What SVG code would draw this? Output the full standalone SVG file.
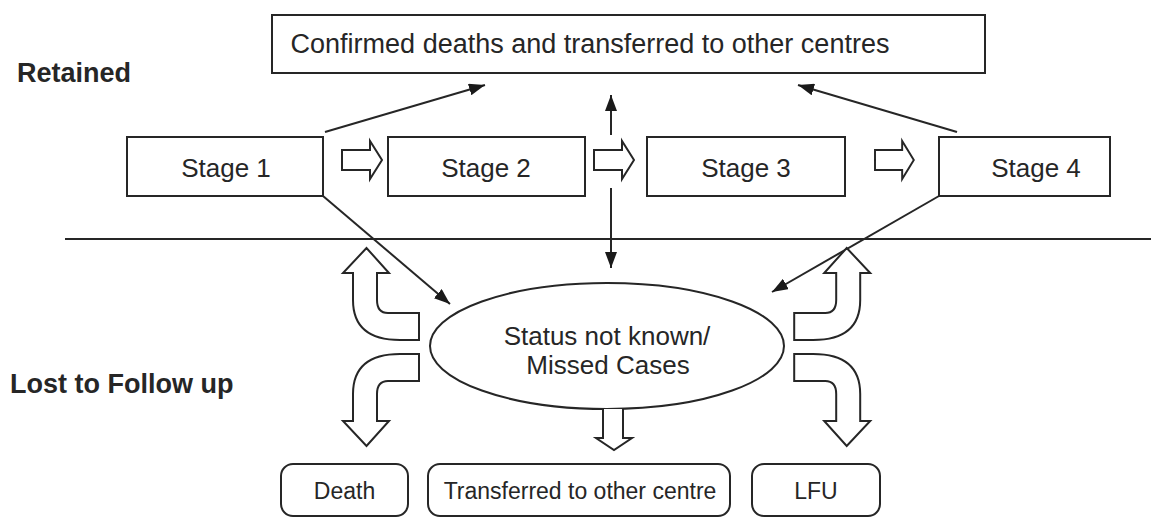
<svg xmlns="http://www.w3.org/2000/svg" xmlns:xlink="http://www.w3.org/1999/xlink" width="1151" height="529" viewBox="0 0 1151 529">
<style>
.box{fill:#fff;stroke:#262626;stroke-width:2}
.blk{fill:#fff;stroke:#262626;stroke-width:2;stroke-linejoin:miter}
.ln{fill:none;stroke:#262626;stroke-width:2}
.t{font-family:"Liberation Sans",Arial,sans-serif;font-size:26px;fill:#262626;text-anchor:middle}
.s{font-size:23px}
.lbl{font-family:"Liberation Sans",Arial,sans-serif;font-size:27px;font-weight:bold;fill:#262626}
</style>
<defs>
<marker id="ah" viewBox="0 0 16 12" refX="16" refY="6" markerWidth="16" markerHeight="12" markerUnits="userSpaceOnUse" orient="auto">
<path d="M0,0 L16,6 L0,12 Z" fill="#1a1a1a"/>
</marker>
<path id="curveUp" d="M419,340 L400,340 Q353,340 353,300 L353,273 L343,273 L366.5,248 L389,273 L377,273 L377,300 Q377,313 388,313 L419,313 Z"/>
<path id="curveDown" d="M419,354 L400,354 Q353,354 353,394 L353,421 L343,421 L366.5,446 L389,421 L377,421 L377,394 Q377,381 388,381 L419,381 Z"/>
<path id="rArrow" d="M0,-10 L28,-10 L28,-19 L40,0 L28,19 L28,10 L0,10 Z"/>
</defs>

<text class="lbl" x="17" y="82">Retained</text>
<text class="lbl" x="10" y="393">Lost to Follow up</text>

<g id="top-box">
<rect class="box" x="272" y="15" width="713" height="58"/>
<text class="t" x="590" y="53" style="font-size:27px">Confirmed deaths and transferred to other centres</text>
</g>

<g id="stage1">
<rect class="box" x="127" y="137" width="196" height="59"/>
<text class="t" x="226" y="177">Stage 1</text>
</g>
<g id="stage2">
<rect class="box" x="388" y="137" width="197" height="59"/>
<text class="t" x="486" y="177">Stage 2</text>
</g>
<g id="stage3">
<rect class="box" x="647" y="137" width="198" height="59"/>
<text class="t" x="746" y="177">Stage 3</text>
</g>
<g id="stage4">
<rect class="box" x="939" y="137" width="171" height="59"/>
<text class="t" x="1036" y="177">Stage 4</text>
</g>

<g id="status">
<ellipse class="box" cx="607" cy="346" rx="177" ry="63"/>
<text class="t" x="607" y="345">Status not known/</text>
<text class="t" x="608" y="374">Missed Cases</text>
</g>

<g id="death">
<rect class="box" x="281" y="464" width="127" height="52" rx="12"/>
<text class="t s" x="344.5" y="499">Death</text>
</g>
<g id="transferred">
<rect class="box" x="428" y="464" width="302" height="52" rx="12"/>
<text class="t s" x="580" y="499">Transferred to other centre</text>
</g>
<g id="lfu">
<rect class="box" x="752" y="464" width="128" height="52" rx="12"/>
<text class="t s" x="816" y="499">LFU</text>
</g>

<g id="connectors">
<line class="ln" x1="65" y1="239" x2="1151" y2="239"/>
<line class="ln" x1="325" y1="132" x2="485" y2="85" marker-end="url(#ah)"/>
<line class="ln" x1="957" y1="132" x2="798" y2="85" marker-end="url(#ah)"/>
<line class="ln" x1="611" y1="135" x2="611" y2="95" marker-end="url(#ah)"/>
<line class="ln" x1="611" y1="188" x2="611" y2="268" marker-end="url(#ah)"/>
<line class="ln" x1="323" y1="196" x2="450" y2="304" marker-end="url(#ah)"/>
<line class="ln" x1="939" y1="196" x2="772" y2="292" marker-end="url(#ah)"/>
<use xlink:href="#rArrow" class="blk" transform="translate(342,160)"/>
<use xlink:href="#rArrow" class="blk" transform="translate(594,160)"/>
<use xlink:href="#rArrow" class="blk" transform="translate(875,160) scale(0.97,1)"/>
<use xlink:href="#curveUp" class="blk"/>
<use xlink:href="#curveDown" class="blk"/>
<use xlink:href="#curveUp" class="blk" transform="translate(1213.2,0) scale(-1,1)"/>
<use xlink:href="#curveDown" class="blk" transform="translate(1213.2,0) scale(-1,1)"/>
<path class="blk" d="M603,409 L603,438 L596,438 L614,450 L632,438 L623,438 L623,409"/>
</g>
</svg>
